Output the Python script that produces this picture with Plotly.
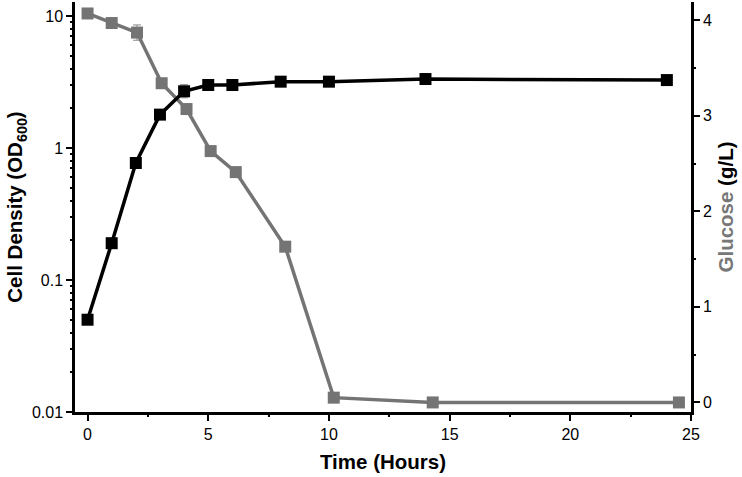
import plotly.graph_objects as go

# Cell density (OD600)
od_time = [0, 1, 2, 3, 4, 5, 6, 8, 10, 14, 24]
od_vals = [0.05, 0.19, 0.77, 1.79, 2.69, 3.0, 3.0, 3.18, 3.18, 3.33, 3.27]
od_err_plus = [0, 0, 0, 0, 0.33, 0, 0, 0, 0, 0, 0]
od_err_minus = [0, 0, 0, 0, 0.29, 0, 0, 0, 0, 0, 0]

# Glucose (g/L)
glc_time = [0, 1, 2.05, 3.07, 4.1, 5.1, 6.14, 8.19, 10.2, 14.3, 24.5]
glc_vals = [4.07, 3.97, 3.87, 3.34, 3.07, 2.63, 2.41, 1.63, 0.05, 0.0, 0.0]
glc_err = [0, 0, 0.08, 0, 0.03, 0, 0, 0.03, 0, 0, 0]

x_ticks = [0, 5, 10, 15, 20, 25]
x_minor = [2.5, 7.5, 12.5, 17.5, 22.5]
od_ticks = [0.01, 0.1, 1, 10]
od_ticklabels = ["0.01", "0.1", "1", "10"]
od_minor = [m * d for d in (0.01, 0.1, 1) for m in range(2, 10)]
glc_ticks = [0, 1, 2, 3, 4]
glc_minor = [0.5, 1.5, 2.5, 3.5]

GRAY = "#747474"
FONT = "Liberation Sans, Arial, sans-serif"
XR = [-0.52, 25]
GR = [-0.1, 4.19]
OR = [-2, 1.106]
TICK_FS = 16
TITLE_FS = 20.5

fig = go.Figure()

fig.add_trace(go.Scatter(
    x=glc_time, y=glc_vals, xaxis="x", yaxis="y", mode="lines+markers",
    line=dict(color=GRAY, width=3.5),
    marker=dict(symbol="square", size=12, color=GRAY),
    error_y=dict(type="data", array=glc_err, color="#8a8a8a", thickness=1, width=4),
    showlegend=False,
))

fig.add_trace(go.Scatter(
    x=od_time, y=od_vals, xaxis="x", yaxis="y2", mode="lines+markers",
    line=dict(color="black", width=3.5),
    marker=dict(symbol="square", size=12, color="black"),
    error_y=dict(type="data", symmetric=False, array=od_err_plus,
                 arrayminus=od_err_minus, color="#8a8a8a", thickness=1, width=4),
    showlegend=False,
))

common = dict(showgrid=False, zeroline=False, automargin=False,
              ticks="outside", tickwidth=2, tickcolor="black")
minor_ax = dict(common, showline=False, ticklen=4, showticklabels=False)

fig.update_layout(
    width=742, height=477,
    margin=dict(l=75, r=51, t=2, b=65),
    plot_bgcolor="white", paper_bgcolor="white",
    font=dict(family=FONT, size=TICK_FS, color="black"),
    xaxis=dict(
        common, range=XR, tickvals=x_ticks, ticklen=6,
        showline=True, linecolor="black", linewidth=2.5,
        title=dict(text="<b>Time (Hours)</b>", font=dict(size=TITLE_FS), standoff=13),
        tickfont=dict(size=TICK_FS),
    ),
    xaxis2=dict(minor_ax, overlaying="x", side="bottom", range=XR, tickvals=x_minor,
                anchor="y"),
    yaxis=dict(
        common, side="right", range=GR, tickvals=glc_ticks, ticklen=6,
        showline=True, linecolor="black", linewidth=2.5,
        title=dict(text="<b><span style='color:#777777'>Glucose</span> (g/L)</b>",
                   font=dict(size=TITLE_FS), standoff=8),
        tickfont=dict(size=TICK_FS),
    ),
    yaxis3=dict(minor_ax, overlaying="y", side="right", range=GR, tickvals=glc_minor,
                anchor="x"),
    yaxis2=dict(
        common, overlaying="y", side="left", type="log", range=OR,
        tickvals=od_ticks, ticktext=od_ticklabels, ticklen=6,
        showline=True, linecolor="black", linewidth=2.5,
        title=dict(text="<b>Cell Density (OD<sub>600</sub>)</b>", font=dict(size=TITLE_FS), standoff=4),
        tickfont=dict(size=TICK_FS),
    ),
    yaxis4=dict(minor_ax, overlaying="y", side="left", type="log", range=OR,
                tickvals=od_minor, anchor="x"),
)

# invisible carriers so the minor-tick axes are drawn
fig.add_trace(go.Scatter(x=[None], y=[None], xaxis="x2", yaxis="y3",
                         showlegend=False, hoverinfo="skip"))
fig.add_trace(go.Scatter(x=[None], y=[None], xaxis="x", yaxis="y4",
                         showlegend=False, hoverinfo="skip"))

fig.write_html("out.html", config={"displayModeBar": False},
               post_script="document.body.style.margin='0';document.body.style.padding='0';")
